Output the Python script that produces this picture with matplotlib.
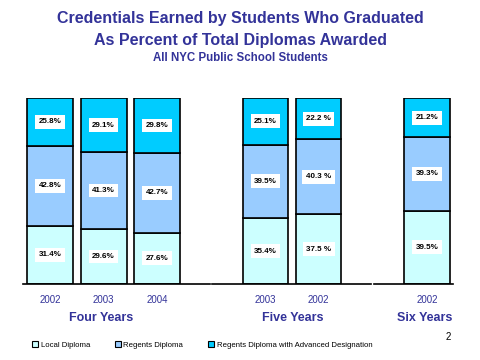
import matplotlib
matplotlib.use("Agg")
import matplotlib.pyplot as plt
from matplotlib.patches import Patch

plt.rcParams['font.family'] = ['Liberation Sans', 'DejaVu Sans']

series_names = ["Local Diploma", "Regents Diploma", "Regents Diploma with Advanced Designation"]
colors = ["#CCFFFF", "#99CCFF", "#00CCFF"]
title_color = "#333399"

groups = ["Four Years", "Five Years", "Six Years"]
years = [["2002", "2003", "2004"], ["2003", "2002"], ["2002"]]
local = [[31.4, 29.6, 27.6], [35.4, 37.5], [39.5]]
regents = [[42.8, 41.3, 42.7], [39.5, 40.3], [39.3]]
advanced = [[25.8, 29.1, 29.8], [25.1, 22.2], [21.2]]
local_lbl = [["31.4%", "29.6%", "27.6%"], ["35.4%", "37.5 %"], ["39.5%"]]
regents_lbl = [["42.8%", "41.3%", "42.7%"], ["39.5%", "40.3 %"], ["39.3%"]]
advanced_lbl = [["25.8%", "29.1%", "29.8%"], ["25.1%", "22.2 %"], ["21.2%"]]

W, H = 480, 360
fig = plt.figure(figsize=(4.8, 3.6), dpi=100)

ax_px = [(23, 210), (212, 371), (374, 453)]
xlims = [(-0.505, 2.99), (-1.01, 1.99), (-1.0, 0.49)]
group_label_x = [101, 293, 425]
y_top, y_bot = 98, 284
bw = 0.86

for g in range(3):
    x0, x1 = ax_px[g]
    ax = fig.add_axes([x0 / W, 1 - y_bot / H, (x1 - x0) / W, (y_bot - y_top) / H])
    n = len(years[g])
    pos = list(range(n))
    ax.bar(pos, local[g], bw, color=colors[0], edgecolor="black", linewidth=1.2)
    ax.bar(pos, regents[g], bw, bottom=local[g], color=colors[1], edgecolor="black", linewidth=1.2)
    bottoms = [a + b for a, b in zip(local[g], regents[g])]
    ax.bar(pos, advanced[g], bw, bottom=bottoms, color=colors[2], edgecolor="black", linewidth=1.2)
    for i in range(n):
        segs = [(0, local[g][i], local_lbl[g][i]),
                (local[g][i], regents[g][i], regents_lbl[g][i]),
                (bottoms[i], advanced[g][i], advanced_lbl[g][i])]
        for b, h, t in segs:
            ax.text(i, b + h / 2, t, ha="center", va="center", fontsize=5.8,
                    fontweight="bold", color="black",
                    bbox=dict(facecolor="white", edgecolor="none", pad=2.5))
    ax.set_xlim(*xlims[g])
    ax.set_ylim(0, 100)
    for s in ["top", "right", "left"]:
        ax.spines[s].set_visible(False)
    ax.spines["bottom"].set_linewidth(1.2)
    ax.set_yticks([])
    ax.set_xticks(pos)
    ax.set_xticklabels(years[g], fontsize=7, color=title_color)
    ax.tick_params(axis="x", length=0, pad=8)
    fig.text(group_label_x[g] / W, 1 - 318 / H, groups[g], ha="center", va="center",
             fontsize=9, fontweight="bold", color=title_color)

fig.text(0.5, 1 - 19 / H, "Credentials Earned by Students Who Graduated", ha="center",
         va="center", fontsize=11.5, fontweight="bold", color=title_color)
fig.text(0.5, 1 - 41 / H, "As Percent of Total Diplomas Awarded", ha="center",
         va="center", fontsize=11.5, fontweight="bold", color=title_color)
fig.text(0.5, 1 - 58 / H, "All NYC Public School Students", ha="center",
         va="center", fontsize=8.3, fontweight="bold", color=title_color)
fig.text(448 / W, 1 - 337 / H, "2", ha="center", va="center", fontsize=7, color="black")

handles = [Patch(facecolor=c, edgecolor="black", linewidth=0.8) for c in colors]
fig.legend(handles, series_names, loc="center left", bbox_to_anchor=(32 / W, 1 - 345 / H),
           ncol=3, frameon=False, fontsize=5.6, handlelength=0.8, handleheight=0.8,
           handletextpad=0.3, columnspacing=3.2, borderpad=0, borderaxespad=0)

fig.savefig("out.png", dpi=100)
